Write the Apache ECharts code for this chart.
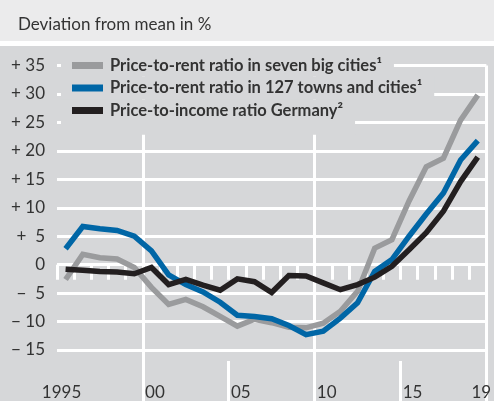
<!DOCTYPE html>
<html>
<head>
<meta charset="utf-8">
<script src="https://cdn.jsdelivr.net/npm/echarts@6/dist/echarts.min.js"></script>
<style>
    html, body { margin: 0; padding: 0; background: #fff; }
    #chart {
        width: 494px;
        height: 401px;
        background: linear-gradient(#ebebec 0, #ebebec 41px, #fff 41px, #fff 46px, #d6d7d9 46px);
    }
</style>
</head>
<body>
<div id="chart"></div>
<script>
    const years = ['1995', '1996', '1997', '1998', '1999', '2000', '2001', '2002', '2003', '2004',
        '2005', '2006', '2007', '2008', '2009', '2010', '2011', '2012', '2013', '2014',
        '2015', '2016', '2017', '2018', '2019'];

    const bigCities = [-2.6, 1.8, 1.2, 1.0, -0.5, -4.0, -7.0, -6.1, -7.4, -9.1,
        -10.8, -9.6, -10.2, -11.0, -11.1, -10.3, -8.2, -4.7, 2.9, 4.4,
        11.2, 17.2, 18.7, 25.4, 29.8];
    const towns = [2.8, 6.7, 6.3, 6.0, 5.0, 2.4, -1.8, -3.5, -4.8, -6.6,
        -8.9, -9.1, -9.5, -10.7, -12.3, -11.7, -9.4, -6.7, -1.2, 0.9,
        5.0, 8.9, 12.6, 18.4, 21.8];
    const income = [-0.8, -1.0, -1.2, -1.3, -1.6, -0.5, -3.5, -2.6, -3.6, -4.5,
        -2.5, -3.0, -4.9, -1.9, -2.0, -3.2, -4.4, -3.5, -2.2, -0.3,
        2.6, 5.6, 9.4, 14.6, 18.9];

    const seriesNames = [
        'Price-to-rent ratio in seven big cities¹',
        'Price-to-rent ratio in 127 towns and cities¹',
        'Price-to-income ratio Germany²'
    ];
    const colors = ['#9a9b9d', '#0066a6', '#231f20'];

    const yTickLabels = {
        '-15': '− 15', '-10': '− 10', '-5': '−  5', '0': '0', '5': '+  5',
        '10': '+ 10', '15': '+ 15', '20': '+ 20', '25': '+ 25', '30': '+ 30', '35': '+ 35'
    };
    const xTickLabels = { '1995': '1995', '2000': '00', '2005': '05', '2010': '10', '2015': '15', '2019': '19' };

    const font = 'Lato';
    const plotBg = '#d6d7d9';
    const white = '#ffffff';
    const textColor = '#333333';

    const myChart = echarts.init(document.getElementById('chart'));

    const option = {
        animation: false,
        title: {
            text: 'Deviation from mean in %',
            left: 13,
            top: 11,
            textStyle: { fontFamily: font, fontSize: 17, fontWeight: 'normal', color: textColor }
        },
        grid: { left: 57, right: 1, top: 65.5, bottom: 50.5 },
        legend: {
            orient: 'vertical',
            left: 56,
            top: 54.25,
            padding: 0,
            itemGap: 0,
            itemWidth: 0,
            itemHeight: 14,
            icon: 'none',
            selectedMode: false,
            data: seriesNames,
            formatter: function (name) {
                const i = seriesNames.indexOf(name);
                let s = '{s' + i + '|}{g|}{t|' + name + '}';
                if (i === 2) s += '\n{p|}';
                return s;
            },
            textStyle: {
                color: textColor,
                fontFamily: font,
                fontWeight: 'bold',
                fontSize: 16.5,
                lineHeight: 18.5,
                backgroundColor: plotBg,
                padding: [2, 12, 2, 11],
                rich: {
                    s0: { width: 31, height: 7, backgroundColor: colors[0] },
                    s1: { width: 31, height: 7, backgroundColor: colors[1] },
                    s2: { width: 31, height: 7, backgroundColor: colors[2] },
                    g: { width: 7 },
                    t: { color: textColor, fontFamily: font, fontWeight: 'bold', fontSize: 16.5, lineHeight: 18.5 },
                    p: { height: 13, lineHeight: 13 }
                }
            }
        },
        xAxis: [
            {
                type: 'category',
                data: years,
                boundaryGap: true,
                position: 'bottom',
                offset: 11,
                axisLine: { show: false },
                axisTick: { show: true, interval: 0, length: 15, lineStyle: { color: white, width: 3 } },
                axisLabel: {
                    interval: function (i, v) { return v in xTickLabels; },
                    margin: 23,
                    formatter: function (v) {
                        return v === '1995' ? '{a|' + xTickLabels[v] + '}' : '{b|' + xTickLabels[v] + '}';
                    },
                    rich: {
                        a: { fontFamily: font, fontSize: 17, color: textColor, padding: [0, 8, 0, 0] },
                        b: { fontFamily: font, fontSize: 17, color: textColor, padding: [0, 0, 0, 7] }
                    }
                },
                splitLine: {
                    show: true,
                    interval: function (i, v) { return v === '2000' || v === '2010'; },
                    lineStyle: { color: white, width: 3 }
                }
            },
            {
                // longer ticks at 05 and 15
                type: 'category',
                data: years,
                boundaryGap: true,
                position: 'bottom',
                offset: 11,
                axisLine: { show: false },
                axisTick: {
                    show: true,
                    interval: function (i, v) { return v === '2005' || v === '2015'; },
                    length: 40,
                    lineStyle: { color: white, width: 3 }
                },
                axisLabel: { show: false },
                splitLine: { show: false }
            },
            {
                // 00 and 10 lines run down through the tick row
                type: 'category',
                data: years,
                boundaryGap: true,
                position: 'bottom',
                offset: 0,
                axisLine: { show: false },
                axisTick: {
                    show: true,
                    interval: function (i, v) { return v === '2000' || v === '2010'; },
                    length: 51,
                    lineStyle: { color: white, width: 3 }
                },
                axisLabel: { show: false },
                splitLine: { show: false }
            }
        ],
        yAxis: {
            type: 'value',
            min: -15,
            max: 35,
            interval: 5,
            axisLine: { show: false },
            axisTick: { show: false },
            axisLabel: {
                margin: 12,
                fontFamily: font,
                fontSize: 17,
                color: textColor,
                formatter: function (v) { return yTickLabels[String(v)]; }
            },
            splitLine: { show: true, lineStyle: { color: white, width: 3 } }
        },
        series: [
            { name: seriesNames[0], type: 'line', data: bigCities, color: colors[0] },
            { name: seriesNames[1], type: 'line', data: towns, color: colors[1] },
            { name: seriesNames[2], type: 'line', data: income, color: colors[2] }
        ].map(function (s) {
            return Object.assign(s, {
                symbol: 'none',
                silent: true,
                lineStyle: { width: 5.5, color: s.color, join: 'miter' }
            });
        })
    };

    myChart.setOption(option);
</script>
</body>
</html>
